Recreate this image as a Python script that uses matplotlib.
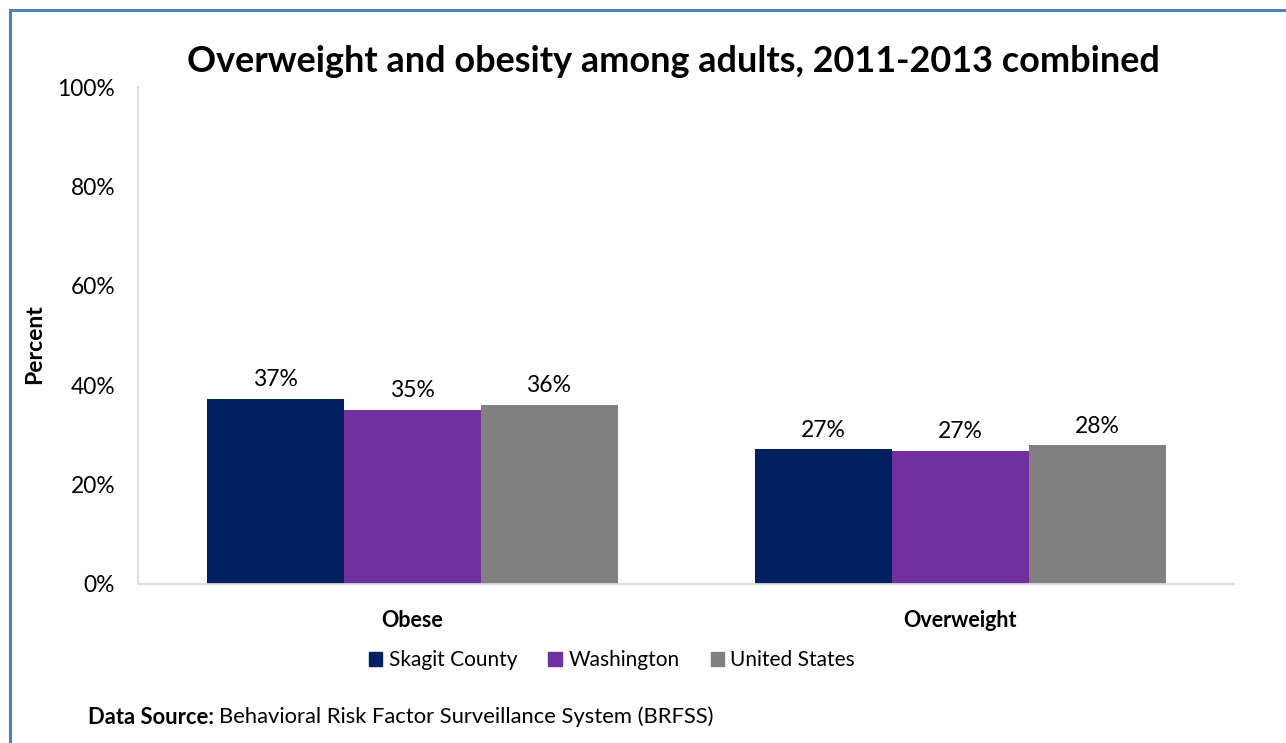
import matplotlib
matplotlib.use("Agg")
import matplotlib.pyplot as plt
from matplotlib.patches import Patch, Rectangle
import numpy as np

categories = ["Obese", "Overweight"]
series_names = ["Skagit County", "Washington", "United States"]
skagit = [37.3, 27.1]
washington = [35.1, 26.8]
united_states = [36.1, 28.0]
y_ticks = [0, 20, 40, 60, 80, 100]
colors = ["#002060", "#7030A0", "#808080"]

FONT = "Lato"
plt.rcParams["font.family"] = [FONT, "DejaVu Sans"]

W, H = 1286, 743
fig = plt.figure(figsize=(W / 100, H / 100), dpi=100)

# outer frame
fig.patches.append(Rectangle((10 / W, -0.1), 1.2, 1 - 10 / H + 0.1,
                             transform=fig.transFigure, fill=False,
                             edgecolor="#4F81BD", linewidth=2.2))

ax = fig.add_axes([138 / W, 1 - 584 / H, (1234 - 138) / W, (584 - 87) / H])
x = np.arange(len(categories))
width = 0.25
for i, (vals, name) in enumerate(zip([skagit, washington, united_states], series_names)):
    bars = ax.bar(x + (i - 1) * width, vals, width, color=colors[i], label=name)
    ax.bar_label(bars, labels=[f"{v:.0f}%" for v in vals], padding=6, fontsize=16.5)

ax.set_xlim(-0.5, 1.5)
ax.set_ylim(0, 100)
ax.set_yticks(y_ticks)
ax.set_yticklabels([f"{t}%" for t in y_ticks], fontsize=16.4)
ax.set_xticks(x)
ax.set_xticklabels(categories, fontsize=15.5, fontweight="bold")
ax.tick_params(axis="both", length=0)
ax.tick_params(axis="y", pad=16.5)
ax.tick_params(axis="x", pad=19)
for s in ["top", "right"]:
    ax.spines[s].set_visible(False)
for s in ["left", "bottom"]:
    ax.spines[s].set_color("#D9D9D9")
    ax.spines[s].set_linewidth(1.3)

fig.text(35 / W, 1 - 344 / H, "Percent", rotation=90, ha="center", va="center",
         fontsize=16.5, fontweight="bold")

fig.text(673 / W, 1 - 62 / H, "Overweight and obesity among adults, 2011-2013 combined",
         ha="center", va="center", fontsize=25.9, fontweight="bold")

handles = [Patch(color=c, label=n) for c, n in zip(colors, series_names)]
fig.legend(handles=handles, loc="center", bbox_to_anchor=(612 / W, 1 - 660 / H),
           ncol=3, frameon=False, fontsize=15, handlelength=0.65, handleheight=0.65,
           handletextpad=0.3, columnspacing=1.5)

t1 = fig.text(88 / W, 1 - 717 / H, "Data Source:", ha="left", va="center",
              fontsize=15.8, fontweight="bold")
fig.canvas.draw()
bb = t1.get_window_extent()
fig.text((bb.x1 + 5) / W, 1 - 717 / H, "Behavioral Risk Factor Surveillance System (BRFSS)",
         ha="left", va="center", fontsize=15.8)

fig.savefig("out.png", dpi=100)
